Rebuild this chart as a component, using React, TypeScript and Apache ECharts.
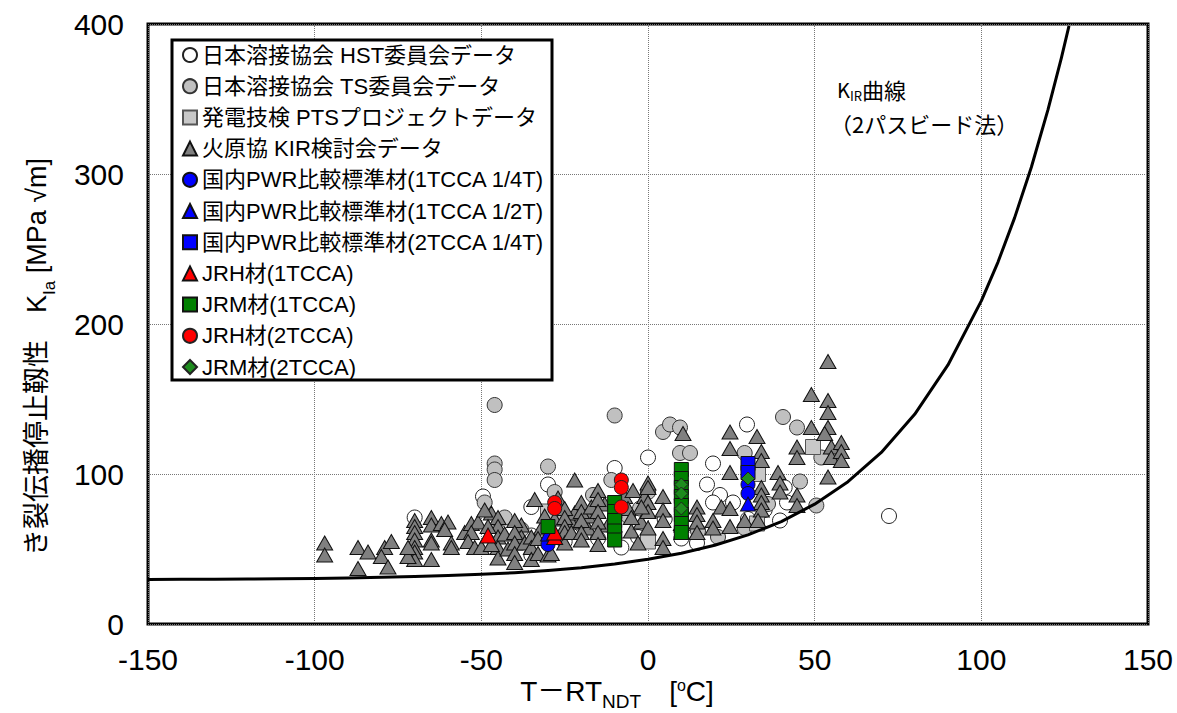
import { useEffect, useRef } from "react";
import * as echarts from "echarts";

const FONT = "'Liberation Sans', Arial, 'Noto Sans CJK JP', sans-serif";
const CJK = "'Noto Sans CJK JP', 'Liberation Sans', sans-serif";

const seriesNames = [
  "日本溶接協会 HST委員会データ",
  "日本溶接協会 TS委員会データ",
  "発電技検 PTSプロジェクトデータ",
  "火原協 KIR検討会データ",
  "国内PWR比較標準材(1TCCA 1/4T)",
  "国内PWR比較標準材(1TCCA 1/2T)",
  "国内PWR比較標準材(2TCCA 1/4T)",
  "JRH材(1TCCA)",
  "JRM材(1TCCA)",
  "JRH材(2TCCA)",
  "JRM材(2TCCA)",
];

const hstData = [
  [-70, 71], [-49.5, 85], [-35, 78], [-35, 59], [-35, 46], [-30, 93], [-10, 104], [-8, 51],
  [0, 111], [19.5, 107], [17.7, 93], [21.6, 86], [19.5, 81], [25.5, 81], [14.7, 54], [29.7, 133],
  [39.6, 69], [41.7, 81], [41, 91], [72.3, 72], [-25, 55], [-3, 58], [5, 70], [30, 70], [35, 76],
  [-45, 62], [-15, 57], [10, 57],
];

const tsData = [
  [-46, 146], [-46, 107], [-46, 103], [-46, 96], [-49, 81], [-43, 71], [-30, 105], [-10, 139],
  [-11, 96], [4.5, 128], [6.6, 133], [9.6, 131], [9.6, 114], [12.6, 114], [21, 58], [29, 114],
  [29, 64], [40.5, 138], [44.7, 131], [45.6, 95], [50.5, 79], [52, 111], [-16.5, 86], [-2.4, 77],
  [-6, 72], [0, 88], [-25, 70], [15, 62], [36, 80], [-20, 66], [-38, 63], [-28, 88],
];

const ptsData = [[-30, 75], [0, 55], [32.7, 67], [49.5, 118], [33, 100]];

const kirData = [
  [-97, 54], [-97, 46], [-87, 51], [-84, 48], [-87, 37], [-79, 51], [-77, 55], [-80, 45], [-78, 38],
  [-70, 69], [-70, 65], [-70, 61], [-70, 56], [-70, 51], [-70, 48], [-70, 43], [-72, 45], [-72, 51],
  [-65, 71], [-65, 66], [-65, 56], [-65, 54], [-65, 43],
  [-62, 67], [-60, 68], [-61, 63], [-59, 54], [-59, 51],
  [-55, 61], [-53, 67], [-51, 68], [-53, 61], [-54, 55], [-52, 51], [-50, 51],
  [-47, 74], [-45, 71], [-45, 65], [-45, 58], [-45, 51], [-45, 44], [-48, 65], [-47, 53], [-49, 76],
  [-43, 60], [-42, 50], [-38, 66], [-38, 58], [-32, 64], [-31, 72],
  [-40, 69], [-40, 61], [-40, 54], [-40, 47], [-40, 41],
  [-37, 54], [-35, 58], [-35, 51], [-35, 43], [-34, 83], [-33, 57], [-33, 47],
  [-30, 46], [-29, 47],
  [-28, 70], [-27, 84], [-23, 68], [-22, 74], [-18, 64], [-18, 72], [-13, 80], [-12, 66],
  [-25, 77], [-25, 71], [-25, 65], [-25, 61], [-25, 54], [-23, 61],
  [-22, 96],
  [-20, 81], [-20, 75], [-20, 69], [-20, 61], [-20, 56], [-17, 78],
  [-15, 89], [-15, 83], [-15, 75], [-15, 68], [-15, 61], [-15, 53],
  [-7, 85], [-6, 77], [-5, 62], [-2, 68], [-1, 85],
  [-5, 71], [-4.5, 89], [-3, 54],
  [0, 94], [0, 91], [0, 81], [0, 75], [0, 64], [-2, 78],
  [4.5, 85], [4.5, 76], [4.5, 69], [4.5, 57], [4.5, 51],
  [10.5, 127], [10, 67], [14.7, 78], [14.7, 73], [14.7, 68], [14.7, 61],
  [19.5, 69], [19.5, 64], [22, 78], [24.6, 128], [24.6, 117], [24.6, 101], [24.6, 77], [24.6, 65], [29, 69],
  [32.7, 125], [34, 115], [34, 109], [34, 91], [34, 86], [34, 81], [34, 76], [33, 69],
  [39, 101], [39.6, 94], [39.6, 88],
  [44.7, 86], [44.7, 79], [44.7, 118], [44.7, 111],
  [49, 153], [49, 131], [54, 149], [54, 141], [54, 131], [53, 127], [55, 118], [55, 111], [54, 98], [54, 175],
  [58, 121], [58, 115], [58, 109],
];

const blueCircleData = [[-30, 53], [-10, 71], [10, 83], [10, 73], [30, 93], [30, 87]];
const blueTriangleData = [[-30, 60], [-10, 66], [-10, 62], [10, 61], [10, 66], [30, 80]];
const blueSquareData = [[30, 107], [30, 101]];
const redTriangleData = [[-48, 59], [-28, 58], [-28, 61]];
const greenSquareData = [
  [-30, 65], [-10, 81], [-10, 75], [-10, 69], [-10, 62], [-10, 56],
  [10, 103], [10, 97], [10, 91], [10, 85], [10, 79], [10, 73], [10, 67], [10, 61],
];
const redCircleData = [[-28, 81], [-28, 77], [-8, 96], [-8, 91], [-8, 78]];
const greenDiamondData = [[10, 93], [10, 87], [10, 77], [30, 97]];

// KIR curve (2-pass bead method)
const curveT = [
  -150, -140, -130, -120, -110, -100, -90, -80, -70, -60, -50, -40, -30, -20, -10,
  0, 10, 20, 30, 40, 50, 60, 70, 80, 90, 100, 105, 110, 115, 120, 124, 126.3,
];
const curveK = [
  29.7, 29.8, 29.9, 30.0, 30.2, 30.4, 30.7, 31.1, 31.6, 32.3, 33.1, 34.2, 35.7, 37.5, 40.0,
  43.1, 47.2, 52.5, 59.4, 68.3, 79.9, 94.9, 114.4, 139.8, 172.7, 215.4, 241.3, 270.9, 304.5, 342.9, 377.3, 398.7,
];

function sc(name: string, data: number[][], symbol: string, size: any, color: string, border: string) {
  return {
    type: "scatter",
    name,
    data,
    symbol,
    symbolSize: size,
    itemStyle: { color, borderColor: border, borderWidth: 1, opacity: 1 },
    emphasis: { disabled: true },
    silent: true,
  };
}

export default function App() {
  const ref = useRef<HTMLDivElement>(null);
  useEffect(() => {
    const chart = echarts.init(ref.current!, null, { renderer: "svg" });
    const option: any = {
      animation: false,
      backgroundColor: "#fff",
      grid: {
        left: 148, right: 29, top: 24, bottom: 89,
        show: true, borderColor: "#000", borderWidth: 3, backgroundColor: "transparent",
      },
      xAxis: {
        type: "value", min: -150, max: 150, interval: 50,
        axisLine: { show: false }, axisTick: { show: false },
        axisLabel: { fontSize: 30, color: "#000", fontFamily: FONT, margin: 20 },
        splitLine: { show: true, lineStyle: { color: "#777", type: "dotted", width: 1 } },
      },
      yAxis: {
        type: "value", min: 0, max: 400, interval: 100,
        axisLine: { show: false }, axisTick: { show: false },
        axisLabel: { fontSize: 30, color: "#000", fontFamily: FONT, margin: 24 },
        splitLine: { show: true, lineStyle: { color: "#777", type: "dotted", width: 1 } },
      },
      legend: {
        orient: "vertical", left: 182, top: 44, itemWidth: 14, itemHeight: 14, itemGap: 9.2,
        padding: 0, selectedMode: false, z: 6,
        textStyle: { fontSize: 22, fontFamily: FONT, color: "#000", lineHeight: 22 },
        data: seriesNames,
      },
      graphic: [
        {
          type: "rect", z: 5, silent: true,
          shape: { x: 172, y: 40, width: 380, height: 340 },
          style: { fill: "#fff", stroke: "#000", lineWidth: 3 },
        },
        {
          type: "text", z: 7, x: 37, y: 357, rotation: Math.PI / 2, silent: true,
          style: {
            text: "{a|き裂伝播停止靱性　K}{s|Ia}{a| [MPa √m]}",
            align: "center", verticalAlign: "middle", fill: "#000",
            rich: {
              a: { fontSize: 27, fontFamily: FONT, lineHeight: 42, verticalAlign: "middle", fill: "#000" },
              s: { fontSize: 17, fontFamily: FONT, lineHeight: 20, verticalAlign: "bottom", fill: "#000" },
            },
          },
        },
        {
          type: "text", z: 7, x: 617, y: 691, silent: true,
          style: {
            text: "{a|T－RT}{s|NDT}{a|　[}{p|o}{a|C]}",
            align: "center", verticalAlign: "middle", fill: "#000",
            rich: {
              a: { fontSize: 28, fontFamily: FONT, lineHeight: 40, verticalAlign: "middle", fill: "#000" },
              s: { fontSize: 19, fontFamily: FONT, lineHeight: 20, verticalAlign: "bottom", fill: "#000" },
              p: { fontSize: 16, fontFamily: FONT, lineHeight: 16, verticalAlign: "top", padding: [6, 0, 0, 0], fill: "#000" },
            },
          },
        },
        {
          type: "text", z: 7, x: 837, y: 89, silent: true,
          style: {
            text: "{a|K}{s|IR}{b|曲線}",
            align: "left", verticalAlign: "middle", fill: "#000",
            rich: {
              a: { fontSize: 20, fontFamily: CJK, lineHeight: 26, verticalAlign: "middle", fill: "#000" },
              s: { fontSize: 13, fontFamily: CJK, lineHeight: 14, verticalAlign: "bottom", fill: "#000" },
              b: { fontSize: 22, fontFamily: CJK, lineHeight: 26, verticalAlign: "middle", fill: "#000" },
            },
          },
        },
        {
          type: "text", z: 7, x: 830, y: 123, silent: true,
          style: {
            text: "（2パスビード法）", fontSize: 22, fontFamily: CJK,
            align: "left", verticalAlign: "middle", fill: "#000",
          },
        },
      ],
      series: [
        sc(seriesNames[0], hstData, "circle", 15, "#ffffff", "#222"),
        sc(seriesNames[1], tsData, "circle", 15, "#c0c0c0", "#333"),
        sc(seriesNames[2], ptsData, "rect", 15, "#c8c8c8", "#555"),
        sc(seriesNames[3], kirData, "triangle", [16, 14], "#808080", "#111"),
        sc(seriesNames[4], blueCircleData, "circle", 14, "#0000ff", "#111"),
        sc(seriesNames[5], blueTriangleData, "triangle", [15, 14], "#0000ff", "#111"),
        sc(seriesNames[6], blueSquareData, "rect", 14, "#0000ff", "#111"),
        sc(seriesNames[7], redTriangleData, "triangle", [16, 15], "#ff0000", "#111"),
        sc(seriesNames[8], greenSquareData, "rect", 14, "#008000", "#111"),
        sc(seriesNames[9], redCircleData, "circle", 14, "#ff0000", "#222"),
        sc(seriesNames[10], greenDiamondData, "diamond", 13, "#1e8c1e", "#222"),
        {
          type: "line",
          name: "KIR",
          data: curveT.map((t, i) => [t, curveK[i]]),
          showSymbol: false,
          smooth: false,
          lineStyle: { color: "#000", width: 3, join: "round" },
          silent: true,
          z: 3,
        },
      ],
    };
    chart.setOption(option);
    return () => chart.dispose();
  }, []);
  return <div ref={ref} style={{ position: "fixed", left: 0, top: 0, width: 1177, height: 713 }} />;
}
